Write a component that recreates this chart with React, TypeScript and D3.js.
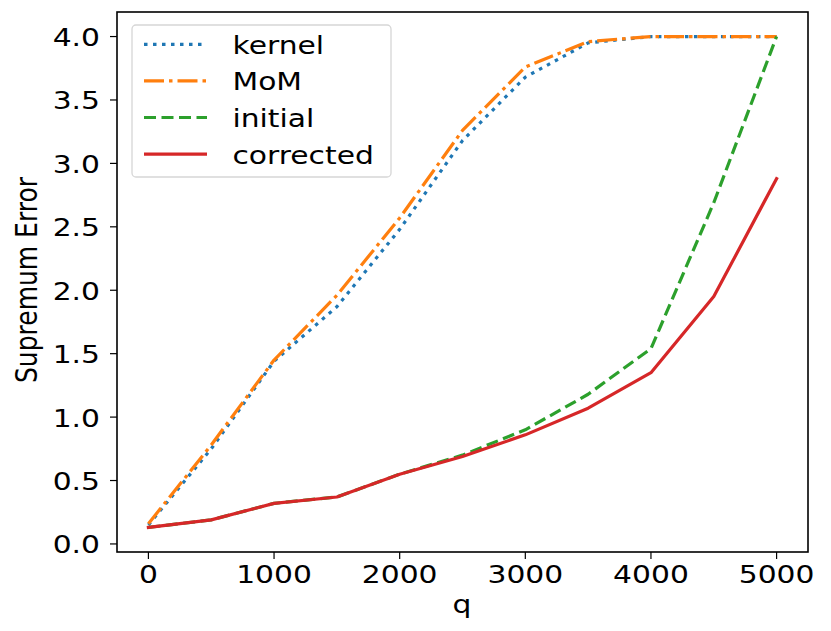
import React, { useRef, useEffect } from 'react';
import * as d3 from 'd3';

const qValues = [0, 500, 1000, 1500, 2000, 2500, 3000, 3500, 4000, 4500, 5000];
const kernel = [0.15, 0.75, 1.44, 1.87, 2.48, 3.18, 3.68, 3.95, 4.0, 4.0, 4.0];
const mom = [0.16, 0.78, 1.45, 1.96, 2.57, 3.26, 3.76, 3.96, 4.0, 4.0, 4.0];
const initial = [0.13, 0.19, 0.32, 0.37, 0.55, 0.7, 0.9, 1.18, 1.54, 2.69, 4.0];
const corrected = [0.13, 0.19, 0.32, 0.37, 0.55, 0.69, 0.86, 1.07, 1.35, 1.95, 2.88];

const xTicks = [0, 1000, 2000, 3000, 4000, 5000];
const yTicks = [0, 0.5, 1, 1.5, 2, 2.5, 3, 3.5, 4];

const seriesNames = ['kernel', 'MoM', 'initial', 'corrected'];
const seriesData = [kernel, mom, initial, corrected];
const seriesColors = ['#1f77b4', '#ff7f0e', '#2ca02c', '#d62728'];
const seriesDash = ['3.5,5.5', '20,5,3.5,5', '12,5.5', null];

const W = 831;
const H = 631;
const FONT = 'DejaVu Sans, sans-serif';
const FS = 25;
const SX = 1.19; // text looks horizontally stretched in the reference

const App: React.FC = () => {
  const svgRef = useRef<SVGSVGElement | null>(null);

  useEffect(() => {
    const svg = d3.select(svgRef.current);
    svg.selectAll('*').remove();

    const left = 117, right = 808, top = 12, bottom = 552;

    const x = d3.scaleLinear().domain([-250, 5250]).range([left, right]);
    const yMin = 0.13 - 0.05 * (4.0 - 0.13);
    const yMax = 4.0 + 0.05 * (4.0 - 0.13);
    const y = d3.scaleLinear().domain([yMin, yMax]).range([bottom, top]);

    const stretchedText = (
      g: d3.Selection<SVGGElement, unknown, null, undefined>,
      tx: number, ty: number, txt: string, anchor: string, rotate = 0
    ) => {
      g.append('g')
        .attr('transform', `translate(${tx},${ty}) scale(${SX},1)` + (rotate ? ` rotate(${rotate})` : ''))
        .append('text')
        .attr('text-anchor', anchor)
        .style('font-family', FONT)
        .style('font-size', `${FS}px`)
        .attr('fill', '#000')
        .text(txt);
    };

    const root = svg.append('g');

    // lines
    const line = d3.line<number>()
      .x((_, i) => x(qValues[i]))
      .y(d => y(d));

    seriesData.forEach((vals, k) => {
      const p = root.append('path')
        .datum(vals)
        .attr('d', line)
        .attr('fill', 'none')
        .attr('stroke', seriesColors[k])
        .attr('stroke-width', 3.2)
        .attr('stroke-linejoin', 'round');
      if (seriesDash[k]) p.attr('stroke-dasharray', seriesDash[k] as string);
      else p.attr('stroke-linecap', 'square');
    });

    // frame
    root.append('rect')
      .attr('x', left).attr('y', top)
      .attr('width', right - left).attr('height', bottom - top)
      .attr('fill', 'none').attr('stroke', '#000').attr('stroke-width', 1.6);

    // x ticks
    xTicks.forEach(t => {
      root.append('line')
        .attr('x1', x(t)).attr('x2', x(t))
        .attr('y1', bottom).attr('y2', bottom + 7)
        .attr('stroke', '#000').attr('stroke-width', 1.2);
      stretchedText(root, x(t), 583, d3.format('d')(t), 'middle');
    });

    // y ticks
    yTicks.forEach(t => {
      root.append('line')
        .attr('x1', left - 7).attr('x2', left)
        .attr('y1', y(t)).attr('y2', y(t))
        .attr('stroke', '#000').attr('stroke-width', 1.2);
      stretchedText(root, 100, y(t) + 9.5, d3.format('.1f')(t), 'end');
    });

    // axis labels
    stretchedText(root, 462, 613, 'q', 'middle');
    stretchedText(root, 36.5, 280, 'Supremum Error', 'middle', -90);

    // legend
    const lg = root.append('g');
    lg.append('rect')
      .attr('x', 132).attr('y', 25)
      .attr('width', 259).attr('height', 152)
      .attr('rx', 4)
      .attr('fill', '#fff').attr('fill-opacity', 0.8)
      .attr('stroke', '#d6d6d6').attr('stroke-width', 1.3);

    seriesNames.forEach((name, k) => {
      const ry = 44.3 + k * 36.6;
      const l = lg.append('line')
        .attr('x1', 144).attr('x2', 207)
        .attr('y1', ry).attr('y2', ry)
        .attr('stroke', seriesColors[k])
        .attr('stroke-width', 3.2);
      if (seriesDash[k]) l.attr('stroke-dasharray', seriesDash[k] as string);
      stretchedText(lg, 232.5, ry + 9.5, name, 'start');
    });
  }, []);

  return (
    <svg
      ref={svgRef}
      width={W}
      height={H}
      style={{ position: 'absolute', left: 0, top: 0, background: '#fff' }}
    />
  );
};

export default App;
